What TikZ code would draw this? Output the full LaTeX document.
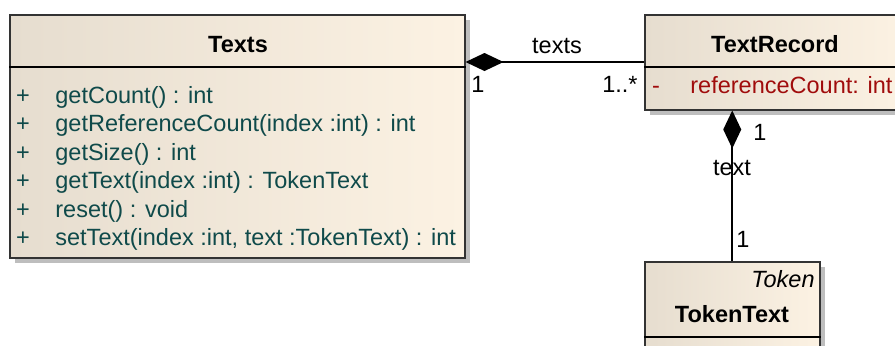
\documentclass[tikz,border=0pt]{standalone}
\usepackage{fontspec}
\setmainfont{Liberation Sans}
\usetikzlibrary{positioning,arrows.meta,shadows}
\definecolor{boxleft}{HTML}{E6DDCF}
\definecolor{boxright}{HTML}{FCF2E3}
\definecolor{opcolor}{HTML}{0F4A4A}
\definecolor{attrcolor}{HTML}{A00C0C}
\definecolor{shadowgray}{HTML}{BEBEBE}
\newcommand{\umlFont}{\fontsize{11.75}{14}\selectfont}

\begin{document}
\begin{tikzpicture}[x=0.5pt, y=-0.5pt,
			classbox/.style={rectangle, draw=black!80, line width=0.75pt, left color=boxleft, right color=boxright, drop shadow={shadow xshift=2.5pt, shadow yshift=-2.5pt, fill=shadowgray, opacity=1}, anchor=north west, inner sep=0pt},
			divider/.style={draw=black, line width=1pt},
			classname/.style={font=\umlFont\bfseries, inner sep=0pt, anchor=base},
			member/.style={font=\umlFont, inner sep=0pt, anchor=base west},
			roletext/.style={font=\umlFont, inner sep=0pt, anchor=base},
			composition/.style={{Diamond[length=19pt, width=9pt]}-, line width=1pt},
		]

		\useasboundingbox (0,0) rectangle (895,345);
		\clip (0,0) rectangle (895,345);

		\node[classbox, minimum width=227.5pt, minimum height=121.5pt] (texts) at (9,14) {};
		\node[classbox, minimum width=130.5pt, minimum height=47.5pt]  (rec)   at (644,14) {};
		\node[classbox, minimum width=87.5pt,  minimum height=50pt]    (tok)   at (644,261) {};

		\draw[divider] ([yshift=-26.5pt]texts.north west) -- ([yshift=-26.5pt]texts.north east);
		\draw[divider] ([yshift=-26.5pt]rec.north west) -- ([yshift=-26.5pt]rec.north east);
		\draw[divider] ([yshift=-38pt]tok.north west) -- ([yshift=-38pt]tok.north east);

		\node[classname] (textsname) at (238,52)  {Texts};
		\node[classname] (recname)   at (775,52)  {TextRecord};
		\node[classname] (tokname)   at (732,322) {TokenText};
		\node[member, anchor=base east, font=\umlFont\itshape] (tokstereo) at (815,287) {Token};

		\foreach \op [count=\i] in {{getCount() : int}, {getReferenceCount(index :int) : int}, {getSize() : int},
				{getText(index :int) : TokenText}, {reset() : void}, {setText(index :int, text :TokenText) : int}} {
			\node[member, anchor=base, text=opcolor] (vis\i) at (23,75.1+28.4*\i) {+};
			\node[member, text=opcolor] (op\i) at (55,75.1+28.4*\i) {\op};
		}

		\node[member, anchor=base, text=attrcolor] (visattr) at (656,93) {-};
		\node[member, text=attrcolor] (attr) at (690,93) {referenceCount: int};

		\draw[composition] ([yshift=-24pt]texts.north east) -- ([yshift=-24pt]rec.north west);
		\draw[composition] (tok.north |- rec.south) -- (tok.north);

		\node[roletext] (textsrole)  at (557,53)  {texts};
		\node[roletext] (textsmult)  at (478,92)  {1};
		\node[roletext, anchor=base east] (recmult) at (638,92) {1..*};
		\node[roletext] (recmult2)   at (760,140) {1};
		\node[roletext] (textrole)   at (732,175) {text};
		\node[roletext] (tokmult)    at (743,247) {1};

		\end{tikzpicture}
\end{document}
